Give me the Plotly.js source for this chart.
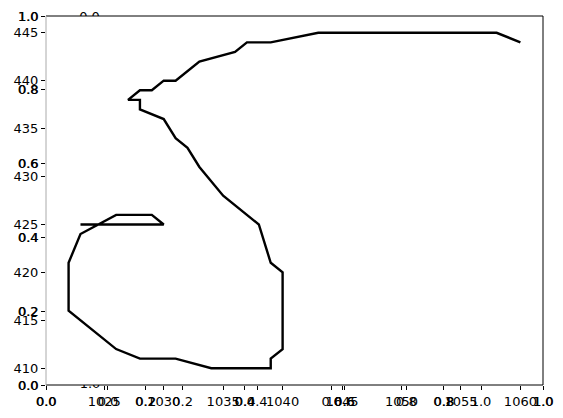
<!DOCTYPE html>
<html><head><meta charset="utf-8">
<script src="https://cdn.plot.ly/plotly-3.0.1.min.js"></script>
<style>html,body{margin:0;padding:0;background:#fff}</style>
</head><body><div id="chart" style="width:563px;height:418px"></div>
<script>
const pathX = [1060,1058,1043,1039,1037,1036,1033,1031,1030,1029,1028,1027,1028,1028,1030,1031,1032,1033,1035,1038,1039,1040,1040,1039,1039,1034,1031,1028,1026,1022,1022,1023,1026,1029,1030,1023];
const pathY = [444,445,445,444,444,443,442,440,440,439,439,438,438,437,436,434,433,431,428,425,421,420,412,411,410,410,411,411,412,416,421,424,426,426,425,425];
const dataXTicks = [1025,1030,1035,1040,1045,1050,1055,1060];
const dataYTicks = [410,415,420,425,430,435,440,445];
const unitTicks = [0,0.2,0.4,0.6,0.8,1.0];
const unitTickLabels = ['0.0','0.2','0.4','0.6','0.8','1.0'];
const strayTop = ['0.0'];
const strayBottom = ['1.0'];

const PH = 401;
const font = {family:'DejaVu Sans', size:13, color:'#000'};
const boldish = {family:'DejaVu Sans', size:13, color:'#000', shadow:'0.5px 0 0 #000'};
function ax(extra){
  return Object.assign({ticks:'outside', ticklen:4, tickwidth:1, tickcolor:'#000',
    showgrid:false, zeroline:false, showline:false, tickfont:font, fixedrange:true}, extra);
}
const mainYDom = [16/PH, 385/PH];
const dummy = (xa, ya) => ({type:'scatter', mode:'markers', x:[null], y:[null], xaxis:xa, yaxis:ya,
  hoverinfo:'skip', showlegend:false});

const traces = [
  dummy('x2','y2'),
  dummy('x3','y'),
  {type:'scatter', mode:'lines', x:pathX, y:pathY, xaxis:'x', yaxis:'y',
   line:{color:'#000', width:2.4}, hoverinfo:'skip', showlegend:false},
  {type:'scatter', mode:'text', x:[89.5], y:[-0.08], text:strayTop, xaxis:'x4', yaxis:'y5',
   textposition:'middle center', textfont:font, cliponaxis:true, hoverinfo:'skip', showlegend:false},
  {type:'scatter', mode:'text', x:[90], y:[1.0], text:strayBottom, xaxis:'x5', yaxis:'y6',
   textposition:'middle center', textfont:font, cliponaxis:true, hoverinfo:'skip', showlegend:false}
];

const layout = {
  width:563, height:418,
  margin:{l:46, r:20, t:0, b:17},
  paper_bgcolor:'#fff', plot_bgcolor:'rgba(0,0,0,0)',
  showlegend:false,
  xaxis: ax({domain:[0,1], anchor:'y', range:[1020.1,1061.9], tickvals:dataXTicks, ticktext:dataXTicks.map(String)}),
  yaxis: ax({domain:mainYDom, anchor:'x', range:[408.25,446.75], tickvals:dataYTicks, ticktext:dataYTicks.map(String)}),
  xaxis2: ax({overlaying:'x', anchor:'y2', side:'bottom', range:[0,1], tickvals:unitTicks, ticktext:unitTickLabels, tickfont:boldish}),
  yaxis2: ax({overlaying:'y', anchor:'x2', side:'left', range:[0,1], tickvals:unitTicks, ticktext:unitTickLabels, tickfont:boldish}),
  xaxis3: ax({overlaying:'x', anchor:'y', side:'bottom', range:[-0.1662,1.1662], tickvals:unitTicks, ticktext:unitTickLabels}),
  xaxis4: {domain:[0,1], anchor:'y5', range:[46,543], visible:false, fixedrange:true},
  yaxis5: {domain:[385/PH,1], anchor:'x4', range:[0,1], visible:false, fixedrange:true},
  xaxis5: {domain:[0,1], anchor:'y6', range:[46,543], visible:false, fixedrange:true},
  yaxis6: {domain:[0,16/PH], anchor:'x5', range:[0,1], visible:false, fixedrange:true},
  shapes:[
    {type:'line', xref:'x domain', yref:'y domain', x0:0, x1:1, y0:1, y1:1, line:{color:'#000', width:1}},
    {type:'line', xref:'x domain', yref:'y domain', x0:0, x1:1, y0:0, y1:0, line:{color:'#000', width:1}},
    {type:'line', xref:'x domain', yref:'y domain', x0:1, x1:1, y0:0, y1:1, line:{color:'#000', width:1}},
    {type:'line', xref:'x domain', yref:'y domain', x0:0, x1:0, y0:0, y1:1, line:{color:'#aaa', width:1}}
  ]
};
Plotly.newPlot('chart', traces, layout, {staticPlot:true, displayModeBar:false});
</script></body></html>
